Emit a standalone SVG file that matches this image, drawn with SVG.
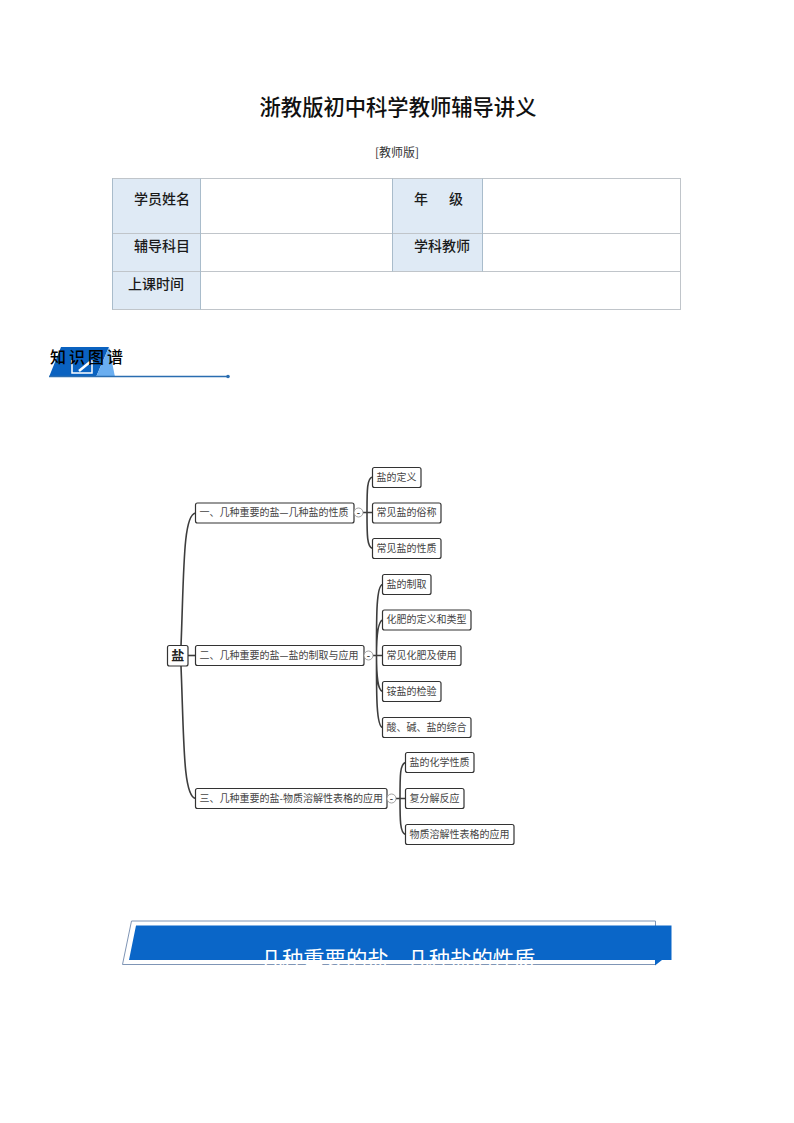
<svg xmlns="http://www.w3.org/2000/svg" width="794" height="1123" viewBox="0 0 794 1123">
<style>
text{font-family:"Noto Sans CJK SC","Noto Sans",sans-serif}
.cell{fill:#dfeaf5}
.grid{stroke:#c0c5ca;stroke-width:1;fill:none}
.cg{stroke:#a9bccb;stroke-width:1;fill:none}
.hd{font-size:14px;fill:#1a1a1a;font-weight:500}
.box{fill:#fff;stroke:#333;stroke-width:1.2}
.lbl{font-size:10px;fill:#444}
.cn{fill:none;stroke:#3d3d3d;stroke-width:1.600}
.tg{fill:#fff;stroke:#888;stroke-width:.8}
.tgt{font-size:9px;font-weight:700;fill:#444;text-anchor:middle}
.zs{font-size:16px;fill:#000;text-anchor:middle;font-weight:500}
</style>
<rect width="794" height="1123" fill="#fff"/>
<text x="398" y="115" font-size="21.3" font-weight="500" fill="#111" text-anchor="middle">浙教版初中科学教师辅导讲义</text>
<text x="397" y="157" font-size="12" fill="#333" text-anchor="middle">[教师版]</text>
<g id="info-table">
<rect class="cell" x="112.500" y="178.500" width="88" height="131"/>
<rect class="cell" x="392.500" y="178.500" width="90" height="93"/>
<rect class="grid" x="112.500" y="178.500" width="568" height="131"/>
<path class="grid" d="M112.500 233.500H680.500M112.500 271.500H680.500"/>
<path class="cg" d="M112.500 178.500V309.500M200.500 178.500V309.500M392.500 178.500V271.500M482.500 178.500V271.500"/>
<text class="hd" x="134" y="204">学员姓名</text>
<text class="hd" x="414" y="204">年</text>
<text class="hd" x="449" y="204">级</text>
<text class="hd" x="134" y="251">辅导科目</text>
<text class="hd" x="414" y="251">学科教师</text>
<text class="hd" x="128" y="289">上课时间</text>
</g>
<g id="section-heading">
<polygon points="49,377 61,347 109,347 96,377" fill="#0a62c0"/>
<polygon points="109,347 96,377 115,377" fill="#6aaef0"/>
<path d="M72 360V373H92V360" fill="none" stroke="#fff" stroke-width="1.500"/>
<path d="M79 371L90 362" stroke="#fff" stroke-width="2.500"/>
<path d="M49 376.500H228" stroke="#2a6db0" stroke-width="1.500"/>
<circle cx="228" cy="376.500" r="1.800" fill="#2a6db0"/>
<text class="zs" x="58" y="363">知</text>
<text class="zs" x="77" y="363">识</text>
<text class="zs" x="96" y="363">图</text>
<text class="zs" x="115" y="363">谱</text>
</g>
<g id="connectors">
<path class="cn" d="M181 646C184 570 183 515 195.500 513"/>
<path class="cn" d="M181 666C184 740 183 796 195.500 798.500"/>
<path class="cn" d="M188 655.500H195.500"/>
<path class="cn" d="M363 512.500H372.500M367 512.500C367 490 367 478 372.500 477M367 512.500C367 535 367 547 372.500 548.500"/>
<path class="cn" d="M373 655.500H382.500M376.500 655.500C376.500 620 376 586 382.500 584.500M376.500 655.500C376.500 640 377 622 382.500 620M376.500 655.500C376.500 672 377 690 382.500 691.500M376.500 655.500C376.500 690 376 726 382.500 727.500"/>
<path class="cn" d="M396 798.500H405.500M400 798.500C400 775 400 764 405.500 762.500M400 798.500C400 820 400 833 405.500 834.500"/>
</g>
<g id="root"><rect class="box" x="167.500" y="645.500" width="20.500" height="20.500" rx="2"/><text x="177.800" y="660" font-size="13" font-weight="700" fill="#222" text-anchor="middle">盐</text></g>
<g id="n1"><rect class="box" x="195.500" y="503" width="158.500" height="20" rx="2"/><text class="lbl" x="199.500" y="516">一、几种重要的盐—几种盐的性质</text></g>
<g id="t1"><circle class="tg" cx="358.500" cy="512.500" r="4.500"/><text class="tgt" x="358.500" y="515.500">-</text></g>
<g id="n11"><rect class="box" x="372.500" y="467.500" width="48.500" height="20" rx="2"/><text class="lbl" x="376.500" y="480.500">盐的定义</text></g>
<g id="n12"><rect class="box" x="372.500" y="503" width="68.500" height="20" rx="2"/><text class="lbl" x="376.500" y="516">常见盐的俗称</text></g>
<g id="n13"><rect class="box" x="372.500" y="538.500" width="68.500" height="20" rx="2"/><text class="lbl" x="376.500" y="551.500">常见盐的性质</text></g>
<g id="n2"><rect class="box" x="195.500" y="645.500" width="168.500" height="20" rx="2"/><text class="lbl" x="199.500" y="658.500">二、几种重要的盐—盐的制取与应用</text></g>
<g id="t2"><circle class="tg" cx="368.500" cy="655.500" r="4.500"/><text class="tgt" x="368.500" y="658.500">-</text></g>
<g id="n21"><rect class="box" x="382.500" y="574.500" width="48.500" height="20" rx="2"/><text class="lbl" x="386.500" y="587.500">盐的制取</text></g>
<g id="n22"><rect class="box" x="382.500" y="610" width="88.500" height="20" rx="2"/><text class="lbl" x="386.500" y="623">化肥的定义和类型</text></g>
<g id="n23"><rect class="box" x="382.500" y="645.500" width="78.500" height="20" rx="2"/><text class="lbl" x="386.500" y="658.500">常见化肥及使用</text></g>
<g id="n24"><rect class="box" x="382.500" y="681.500" width="58.500" height="20" rx="2"/><text class="lbl" x="386.500" y="694.500">铵盐的检验</text></g>
<g id="n25"><rect class="box" x="382.500" y="717.500" width="88.500" height="20" rx="2"/><text class="lbl" x="386.500" y="730.500">酸、碱、盐的综合</text></g>
<g id="n3"><rect class="box" x="195.500" y="788.500" width="191.500" height="20" rx="2"/><text class="lbl" x="199.500" y="801.500">三、几种重要的盐-物质溶解性表格的应用</text></g>
<g id="t3"><circle class="tg" cx="391.500" cy="798.500" r="4.500"/><text class="tgt" x="391.500" y="801.500">-</text></g>
<g id="n31"><rect class="box" x="405.500" y="752.500" width="68.500" height="20" rx="2"/><text class="lbl" x="409.500" y="765.500">盐的化学性质</text></g>
<g id="n32"><rect class="box" x="405.500" y="788.500" width="58.500" height="20" rx="2"/><text class="lbl" x="409.500" y="801.500">复分解反应</text></g>
<g id="n33"><rect class="box" x="405.500" y="824.500" width="108.500" height="20" rx="2"/><text class="lbl" x="409.500" y="837.500">物质溶解性表格的应用</text></g>
<g id="banner">
<polygon points="122.500,964.500 131.500,921 655.500,921 655.500,964.500" fill="#fff" stroke="#7f95b5"/>
<polygon points="129,960 136,925.500 671.500,925.500 671.500,960 662,960 655,965.500 655,960" fill="#0a66c8"/>
<text x="398" y="967" font-size="21.300" fill="#fff" text-anchor="middle">几种重要的盐—几种盐的性质</text>
</g>
</svg>
